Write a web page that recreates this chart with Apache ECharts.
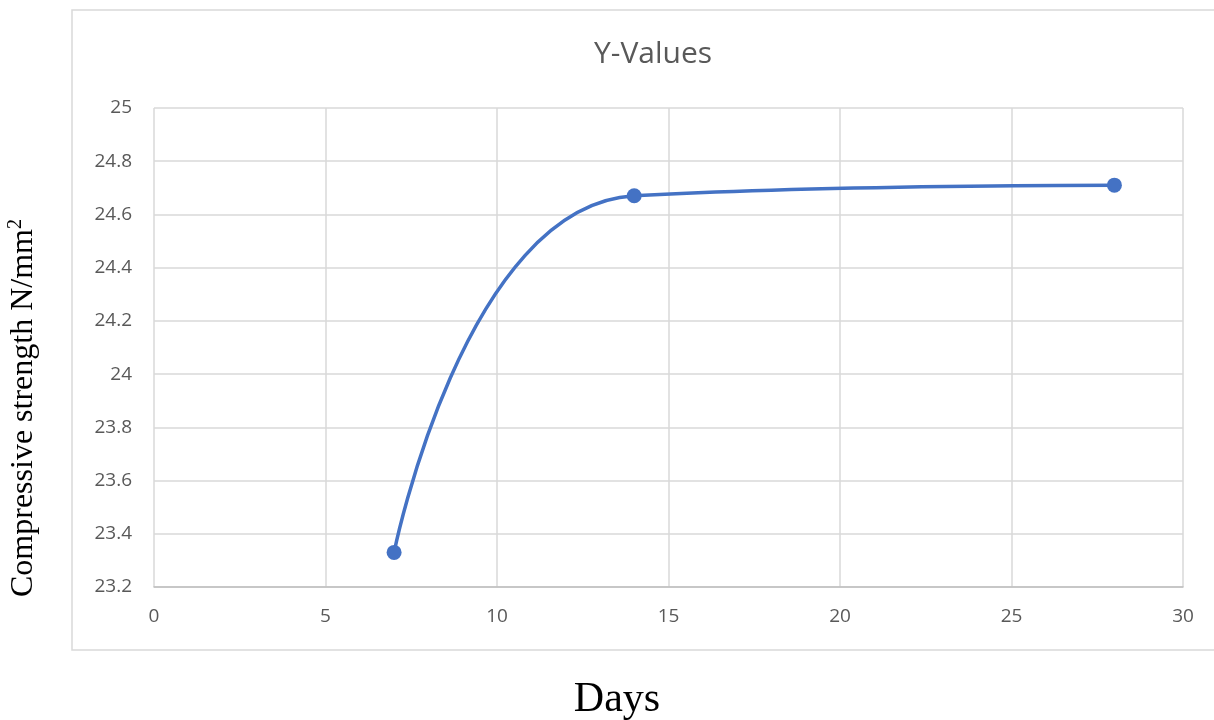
<!DOCTYPE html>
<html><head><meta charset="utf-8">
<script src="https://cdn.jsdelivr.net/npm/echarts@6/dist/echarts.min.js"></script>
<style>html,body{margin:0;padding:0;background:#fff}#c{width:1214px;height:720px}</style>
</head><body><div id="c"></div>
<script>
const days = [7, 14, 28];
const strength = [23.33, 24.67, 24.71];
const titleText = 'Y-Values';
const xName = 'Days';
const yNameMain = 'Compressive strength N/mm';
const yNameSup = '2';

const chart = echarts.init(document.getElementById('c'));
const tickFont = { fontFamily: 'Open Sans', fontSize: 19, color: '#595959' };
chart.setOption({
  animation: false,
  title: { text: titleText, left: 648, top: 34, textAlign: 'center',
    textStyle: { fontFamily: 'Open Sans', fontSize: 30, fontWeight: 'normal', color: '#595959' } },
  grid: { left: 154, right: 31, top: 108, bottom: 133 },
  xAxis: { type: 'value', min: 0, max: 30, interval: 5,
    axisLine: { lineStyle: { color: '#bfbfbf', width: 1.5 } },
    axisTick: { show: false },
    axisLabel: Object.assign({ margin: 20 }, tickFont),
    splitLine: { lineStyle: { color: '#d9d9d9', width: 1.5 } } },
  yAxis: { type: 'value', min: 23.2, max: 25, interval: 0.2,
    axisLine: { show: false }, axisTick: { show: false },
    axisLabel: Object.assign({ margin: 22, formatter: v => String(+v.toFixed(1)) }, tickFont),
    splitLine: { lineStyle: { color: '#d9d9d9', width: 1.5 } } },
  graphic: [
    { type: 'rect', shape: { x: 72, y: 10, width: 1200, height: 640 },
      style: { fill: 'none', stroke: '#d9d9d9', lineWidth: 1.5 }, z: -10 },
    { type: 'text', x: 617, y: 700,
      style: { text: xName, fontFamily: 'Liberation Serif', fontSize: 42, fill: '#000',
        align: 'center', verticalAlign: 'middle' } },
    { type: 'text', x: 24, y: 408, rotation: Math.PI / 2,
      style: { text: yNameMain + '{s|' + yNameSup + '}', fontFamily: 'Liberation Serif', fontSize: 32, fill: '#000',
        align: 'center', verticalAlign: 'middle',
        rich: { s: { fontFamily: 'Liberation Serif', fontSize: 20, fill: '#000', verticalAlign: 'top', padding: [0,0,16,0] } } } }
  ],
  series: [{ type: 'line', data: days.map((d, i) => [d, strength[i]]), smooth: 0.5,
    symbol: 'circle', symbolSize: 15,
    lineStyle: { color: '#4472c4', width: 3.5 },
    itemStyle: { color: '#4472c4' } }]
});
</script></body></html>
